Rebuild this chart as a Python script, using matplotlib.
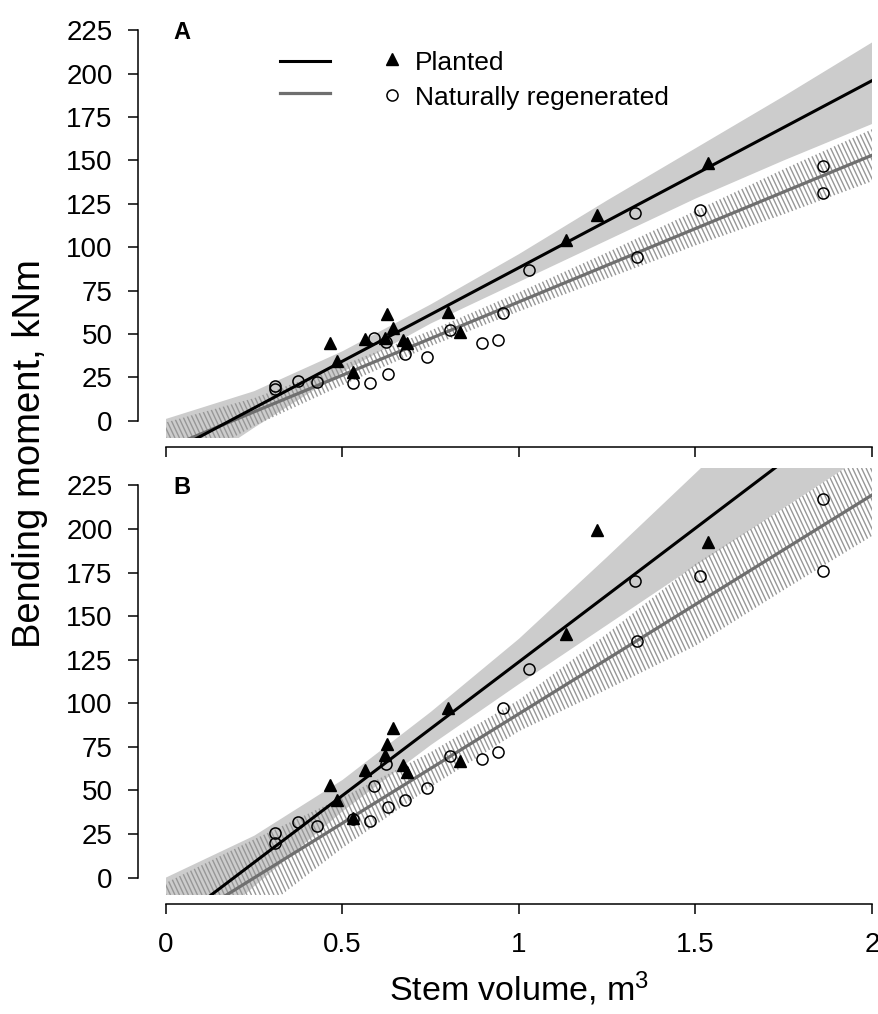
import matplotlib.pyplot as plt
import numpy as np
from matplotlib.patches import Polygon
from matplotlib.collections import LineCollection

# stem volume of the trees (same trees in both panels)
planted_x = [0.465, 0.484, 0.53, 0.564, 0.62, 0.626, 0.643, 0.671, 0.683, 0.799, 0.833, 1.133, 1.221, 1.535]
natural_x = [0.31, 0.31, 0.374, 0.428, 0.53, 0.578, 0.589, 0.623, 0.629, 0.677, 0.739,
             0.805, 0.895, 0.94, 0.955, 1.029, 1.329, 1.334, 1.513, 1.861, 1.861]

# bending moment, panel A and B
A_planted_y = [44.5, 34.1, 27.8, 47.2, 47.5, 61.6, 53.3, 46.6, 44.5, 62.8, 51.3, 104.2, 118.6, 148.5]
A_natural_y = [18.5, 20.0, 23.0, 22.5, 21.5, 21.5, 47.5, 45.5, 26.8, 38.6, 36.7,
               52.4, 44.8, 46.6, 62.3, 86.7, 119.7, 94.4, 121.4, 146.8, 131.2]
B_planted_y = [53.1, 44.5, 34.0, 61.8, 70.4, 76.8, 85.8, 64.7, 60.8, 97.4, 66.6, 140.0, 199.2, 192.3]
B_natural_y = [25.8, 20.0, 31.8, 29.5, 33.5, 32.3, 52.6, 65.2, 40.3, 44.5, 51.3,
               69.9, 68.3, 72.0, 97.2, 119.5, 170.3, 135.7, 173.2, 217.0, 176.0]

# fitted lines (values at x = 0 and x = 2)
fit_x = [0, 2]
A_planted_fit = [-19.6, 196.0]
A_natural_fit = [-16.0, 153.0]
B_planted_fit = [-29.6, 277.2]
B_natural_fit = [-31.5, 219.5]

# confidence bands
band_x = [0, 0.25, 0.5, 0.75, 1.0, 1.25, 1.5, 1.75, 2.0]
A_planted_hi = [1, 17, 40, 67, 96, 127, 157, 187, 218]
A_planted_lo = [-38, -4, 28, 56, 80, 104, 128, 150, 171]
A_natural_hi = [-1, 13, 32, 52, 74, 97, 121, 145, 168]
A_natural_lo = [-31, -3, 20.5, 43, 63, 82, 101, 119, 138]
B_planted_hi = [0, 24, 56, 95, 137, 184, 232, 280, 328]
B_planted_lo = [-50, -5, 38, 76, 111, 145, 179, 212, 245]
B_natural_hi = [-3, 22, 46, 72, 102, 140, 180, 212, 245]
B_natural_lo = [-60, -22, 17, 52, 84, 108, 133, 165, 196]

plt.rcParams['font.family'] = ['Liberation Sans', 'DejaVu Sans']
plt.rcParams['mathtext.fontset'] = 'custom'
plt.rcParams['mathtext.rm'] = 'Liberation Sans'
plt.rcParams['mathtext.it'] = 'Liberation Sans:italic'


def band_poly(x, lo, hi, **kw):
    x = np.asarray(x, float)
    pts = np.column_stack([np.r_[x, x[::-1]], np.r_[hi, lo[::-1]]])
    return Polygon(pts, closed=True, **kw)


def hatch_band(ax, x, lo, hi):
    poly = band_poly(x, lo, hi, fc='none', ec='none')
    ax.add_patch(poly)
    w = 706.0
    step = 4.5 / w
    dx = 200.0 / w
    segs = [[(x0, 1.0), (x0 + dx, 0.0)] for x0 in np.arange(-dx, 1.0, step)]
    lc = LineCollection(segs, colors='#979797', linewidths=1.0, transform=ax.transAxes, zorder=2)
    ax.add_collection(lc, autolim=False)
    lc.set_clip_path(poly)


def draw_panel(ax, p_y, n_y, p_fit, n_fit, p_hi, p_lo, n_hi, n_lo, letter):
    ax.add_patch(band_poly(band_x, p_lo, p_hi, fc='#cccccc', ec='none', zorder=1))
    hatch_band(ax, band_x, n_lo, n_hi)
    ax.plot(fit_x, n_fit, color='#6f6f6f', lw=2.3, zorder=3)
    ax.plot(fit_x, p_fit, color='black', lw=2.2, zorder=4)
    ax.plot(planted_x, p_y, '^', color='black', ms=9, zorder=5)
    ax.plot(natural_x, n_y, 'o', mfc='none', mec='black', ms=8, mew=1.1, zorder=5)

    ax.set_xlim(0, 2)
    ax.set_ylim(-10, 235)
    ax.spines['top'].set_visible(False)
    ax.spines['right'].set_visible(False)
    ax.spines['left'].set_position(('outward', 20))
    ax.spines['bottom'].set_position(('outward', 6.5))
    ax.spines['left'].set_bounds(0, 225)
    ax.spines['bottom'].set_bounds(0, 2)
    ax.spines['left'].set_linewidth(1.1)
    ax.spines['bottom'].set_linewidth(1.1)
    ax.set_yticks(np.arange(0, 226, 25))
    ax.set_xticks([0, 0.5, 1, 1.5, 2])
    ax.set_xticklabels(['0', '0.5', '1', '1.5', '2'])
    ax.tick_params(axis='both', length=7.5, width=1.1, labelsize=20)
    ax.tick_params(axis='y', pad=11)
    ax.tick_params(axis='x', pad=13)
    ax.text(0.011, 0.955, letter, transform=ax.transAxes, fontsize=17,
            fontweight='bold', ha='left', va='center')


fig = plt.figure(figsize=(8.79, 10.14), dpi=100)
axA = fig.add_axes([166 / 879, 1 - 438 / 1014, 706 / 879, 425 / 1014])
axB = fig.add_axes([166 / 879, 1 - 895 / 1014, 706 / 879, 427 / 1014])

draw_panel(axA, A_planted_y, A_natural_y, A_planted_fit, A_natural_fit,
           A_planted_hi, A_planted_lo, A_natural_hi, A_natural_lo, 'A')
draw_panel(axB, B_planted_y, B_natural_y, B_planted_fit, B_natural_fit,
           B_planted_hi, B_planted_lo, B_natural_hi, B_natural_lo, 'B')
axA.tick_params(axis='x', labelbottom=False)

# legend in panel A
axA.plot([0.161, 0.232], [0.887, 0.887], color='black', lw=2.2, transform=axA.transAxes)
axA.plot([0.161, 0.232], [0.812, 0.812], color='#6f6f6f', lw=2.3, transform=axA.transAxes)
axA.plot([0.320], [0.892], '^', color='black', ms=9, transform=axA.transAxes)
axA.plot([0.320], [0.807], 'o', mfc='none', mec='black', ms=8, mew=1.1, transform=axA.transAxes)
axA.text(0.353, 0.882, 'Planted', transform=axA.transAxes, fontsize=19, va='center')
axA.text(0.353, 0.800, 'Naturally regenerated', transform=axA.transAxes, fontsize=19, va='center')

fig.text(0.034, 1 - 454 / 1014, 'Bending moment, kNm', rotation=90, fontsize=27.5,
         ha='center', va='center')
fig.text(519 / 879, 1 - 1001 / 1014, 'Stem volume, m$^3$', fontsize=24.5,
         ha='center', va='baseline')

plt.savefig('out.png', dpi=100)
